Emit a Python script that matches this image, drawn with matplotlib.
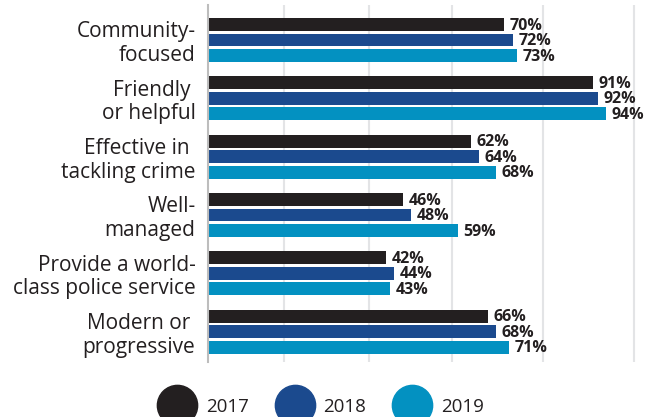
import matplotlib.pyplot as plt
from matplotlib.lines import Line2D
import numpy as np

plt.rcParams['font.family'] = ['Open Sans', 'DejaVu Sans']

categories = ['Community-\nfocused', 'Friendly \nor helpful', 'Effective in \ntackling crime',
              'Well-\nmanaged', 'Provide a world-\nclass police service', 'Modern or \nprogressive']
years = ['2017', '2018', '2019']
v2017 = [70, 91, 62, 46, 42, 66]
v2018 = [72, 92, 64, 48, 44, 68]
v2019 = [73, 94, 68, 59, 43, 71]
colors = ['#231f20', '#1b4a8e', '#0391c1']

fig = plt.figure(figsize=(6.56, 4.17), dpi=100)
ax = fig.add_axes([208 / 656, 55 / 417, 432 / 656, 357 / 417])

n = len(categories)
y = np.arange(n)
bar_h = 0.22
step = 0.265
for k, (vals, c) in enumerate(zip([v2017, v2018, v2019], colors)):
    pos = y + (k - 1) * step
    ax.barh(pos, vals, height=bar_h, color=c, zorder=2)
    for p, v in zip(pos, vals):
        ax.text(v + 1.3, p + 0.02, f'{v}%', va='center', ha='left', fontsize=11.5,
                fontweight='bold', color='#231f20')

ax.set_ylim(n - 0.5 + 0.02, -0.5 - 0.1)
ax.set_xlim(0, 102)
ax.set_yticks(y)
ax.set_yticklabels(categories, fontsize=15, color='#231f20', linespacing=1.15)
ax.tick_params(axis='y', length=0, pad=9)
ax.set_xticks([18, 38, 57.5, 79, 100.5])
ax.tick_params(axis='x', length=0, labelbottom=False)
ax.grid(axis='x', color='#e3e4e6', linewidth=1.5, zorder=0)
for s in ['top', 'right', 'bottom']:
    ax.spines[s].set_visible(False)
ax.spines['left'].set_color('#bdbdbd')
ax.spines['left'].set_linewidth(1.5)

handles = [Line2D([], [], marker='o', linestyle='', markersize=29, color=c) for c in colors]
leg = fig.legend(handles, years, loc='center', bbox_to_anchor=(323 / 656, 1 - 407 / 417),
                 ncol=3, frameon=False, fontsize=13.5, handletextpad=0.75, columnspacing=1.63,
                 handlelength=1.6)
for t in leg.get_texts():
    t.set_color('#231f20')

fig.savefig('out.png', dpi=100)
